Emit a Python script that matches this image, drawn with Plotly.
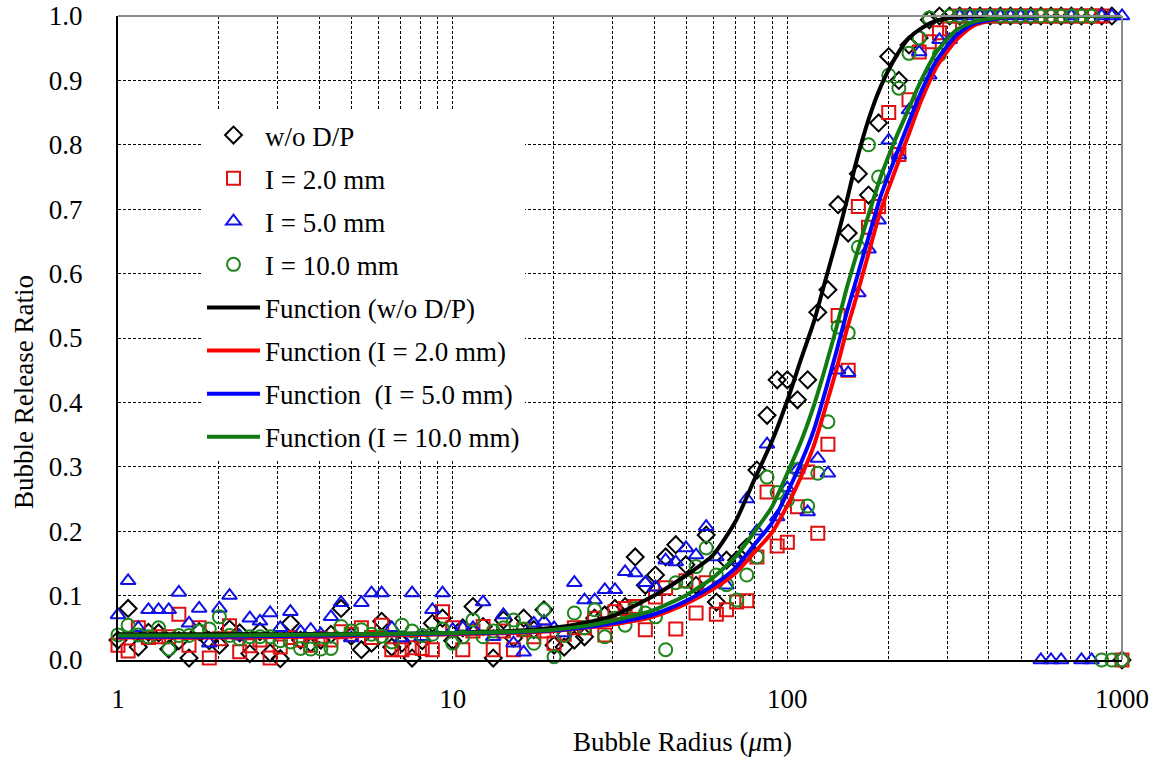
import plotly.graph_objects as go

# ---------------- data ----------------
RADIUS = [1.00, 1.072, 1.150, 1.233, 1.322, 1.418, 1.520, 1.630, 1.748, 1.874,
          2.009, 2.154, 2.310, 2.477, 2.656, 2.848, 3.054, 3.275, 3.511, 3.765,
          4.037, 4.329, 4.642, 4.977, 5.337, 5.722, 6.136, 6.579, 7.055, 7.565,
          8.111, 8.697, 9.326, 10.00, 10.72, 11.50, 12.33, 13.22, 14.18, 15.20,
          16.30, 17.48, 18.74, 20.09, 21.54, 23.10, 24.77, 26.56, 28.48, 30.54,
          32.75, 35.11, 37.65, 40.37, 43.29, 46.42, 49.77, 53.37, 57.22, 61.36,
          65.79, 70.55, 75.65, 81.11, 86.97, 93.26, 100.0, 107.2, 115.0, 123.3,
          132.2, 141.8, 152.0, 163.0, 174.8, 187.4, 200.9, 215.4, 231.0, 247.7,
          265.6, 284.8, 305.4, 327.5, 351.1, 376.5, 403.7, 432.9, 464.2, 497.7,
          533.7, 572.2, 613.6, 657.9, 705.5, 756.5, 811.1, 869.7, 932.6, 1000.0]

WO_DP = [0.031, 0.080, 0.020, 0.043, 0.042, 0.017, 0.030, 0.003, 0.044, 0.030,
         0.023, 0.048, 0.042, 0.010, 0.044, 0.011, 0.002, 0.057, 0.031, 0.026,
         0.031, 0.040, 0.080, 0.037, 0.016, 0.026, 0.060, 0.020, 0.026, 0.003,
         0.030, 0.057, 0.065, 0.030, 0.050, 0.083, 0.052, 0.003, 0.062, 0.034,
         0.065, 0.047, 0.078, 0.023, 0.020, 0.031, 0.036, 0.065, 0.070, 0.080,
         0.083, 0.160, 0.116, 0.132, 0.160, 0.179, 0.148, 0.116, 0.194, 0.090,
         0.155, 0.155, 0.175, 0.295, 0.380, 0.435, 0.435, 0.404, 0.435, 0.540,
         0.575, 0.707, 0.663, 0.755, 0.722, 0.834, 0.937, 0.900, 0.955, 0.966,
         0.994, 1.0, 1.0, 1.0, 1.0, 1.0, 1.0, 1.0, 1.0, 1.0,
         1.0, 1.0, 1.0, 1.0, 1.0, 1.0, 1.0, 1.0, 1.0, 0.0]

I_2MM = [0.023, 0.014, 0.050, 0.035, 0.036, 0.036, 0.071, 0.023, 0.050, 0.003,
         0.033, 0.053, 0.013, 0.022, 0.031, 0.003, 0.020, 0.035, 0.031, 0.023,
         0.033, 0.031, 0.044, 0.040, 0.050, 0.035, 0.054, 0.016, 0.016, 0.019,
         0.018, 0.016, 0.075, 0.050, 0.016, 0.045, 0.052, 0.016, 0.045, 0.016,
         0.047, 0.036, 0.045, 0.026, 0.040, 0.050, 0.050, 0.065, 0.039, 0.075,
         0.080, 0.083, 0.047, 0.098, 0.112, 0.048, 0.123, 0.073, 0.120, 0.071,
         0.078, 0.090, 0.092, 0.160, 0.261, 0.177, 0.183, 0.238, 0.292, 0.197,
         0.335, 0.535, 0.450, 0.704, 0.672, 0.704, 0.850, 0.785, 0.870, 0.944,
         0.960, 0.974, 0.980, 1.0, 1.0, 1.0, 1.0, 1.0, 1.0, 1.0,
         1.0, 1.0, 1.0, 1.0, 1.0, 1.0, 1.0, 1.0, None, 0.0]

I_5MM = [0.070, 0.123, 0.050, 0.078, 0.078, 0.078, 0.105, 0.057, 0.080, 0.026,
         0.080, 0.100, 0.037, 0.065, 0.060, 0.073, 0.050, 0.075, 0.044, 0.047,
         0.040, 0.067, 0.089, 0.034, 0.089, 0.104, 0.104, 0.050, 0.034, 0.104,
         0.036, 0.078, 0.104, 0.047, 0.050, 0.050, 0.090, 0.036, 0.070, 0.026,
         0.012, 0.057, 0.060, 0.050, 0.042, 0.120, 0.093, 0.093, 0.109, 0.109,
         0.137, 0.135, 0.120, 0.113, 0.155, 0.152, 0.174, 0.163, 0.207, 0.160,
         0.116, 0.155, 0.250, 0.200, 0.335, 0.222, 0.267, 0.296, 0.230, 0.313,
         0.290, 0.450, 0.446, 0.570, 0.638, 0.683, 0.807, 0.784, 0.854, 0.944,
         0.908, 0.963, 0.963, 1.0, 1.0, 1.0, 1.0, 1.0, 1.0, 1.0,
         1.0, 0.0, 0.0, 0.0, 1.0, 0.0, 0.0, 1.0, 1.0, 1.0]

I_10MM = [0.039, 0.054, 0.039, 0.036, 0.050, 0.017, 0.038, 0.038, 0.045, 0.048,
          0.067, 0.038, 0.033, 0.036, 0.036, 0.036, 0.030, 0.028, 0.018, 0.017,
          0.017, 0.018, 0.052, 0.045, 0.047, 0.040, 0.037, 0.028, 0.054, 0.045,
          0.038, 0.040, 0.048, 0.026, 0.036, 0.062, 0.036, 0.045, 0.050, 0.062,
          0.048, 0.026, 0.078, 0.005, 0.038, 0.073, 0.050, 0.078, 0.036, 0.065,
          0.054, 0.080, 0.073, 0.067, 0.016, 0.120, 0.122, 0.145, 0.174, 0.132,
          0.117, 0.093, 0.132, 0.160, 0.284, 0.260, 0.248, 0.296, 0.239, 0.290,
          0.370, 0.517, 0.508, 0.641, 0.800, 0.750, 0.908, 0.888, 0.942, 0.966,
          0.997, 0.940, 1.0, 1.0, 1.0, 1.0, 1.0, 1.0, 1.0, 1.0,
          1.0, 1.0, 1.0, 1.0, 1.0, 1.0, 1.0, 0.0, 0.0, 0.0]

CURVE_X = [1, 2, 5, 10, 15, 20, 25, 30, 40, 50, 60, 70, 80, 90, 100, 110, 120,
           130, 140, 150, 160, 175, 190, 210, 230, 250, 280, 320, 360, 450, 600, 1000]
FN_WO_DP = [0.040, 0.040, 0.040, 0.042, 0.045, 0.050, 0.058, 0.068, 0.100, 0.132,
            0.163, 0.215, 0.282, 0.340, 0.403, 0.468, 0.525, 0.590, 0.650, 0.710,
            0.770, 0.840, 0.890, 0.935, 0.965, 0.980, 0.993, 0.998, 1.0, 1.0, 1.0, 1.0]
FN_2MM = [0.035, 0.035, 0.037, 0.040, 0.042, 0.045, 0.050, 0.055, 0.068, 0.088,
          0.110, 0.135, 0.168, 0.198, 0.240, 0.285, 0.333, 0.392, 0.450, 0.510,
          0.560, 0.632, 0.698, 0.760, 0.815, 0.866, 0.922, 0.963, 0.985, 0.998, 1.0, 1.0]
FN_5MM = [0.036, 0.036, 0.039, 0.041, 0.043, 0.046, 0.051, 0.057, 0.071, 0.092,
          0.116, 0.143, 0.180, 0.213, 0.260, 0.307, 0.357, 0.418, 0.478, 0.537,
          0.587, 0.657, 0.720, 0.780, 0.833, 0.880, 0.932, 0.970, 0.988, 0.998, 1.0, 1.0]
FN_10MM = [0.038, 0.038, 0.040, 0.042, 0.044, 0.047, 0.053, 0.061, 0.078, 0.101,
           0.128, 0.160, 0.200, 0.238, 0.290, 0.340, 0.395, 0.455, 0.515, 0.575,
           0.625, 0.692, 0.750, 0.808, 0.855, 0.898, 0.945, 0.978, 0.991, 0.999, 1.0, 1.0]

X_TICKS = [1, 2, 3, 4, 5, 6, 7, 8, 9, 10, 20, 30, 40, 50, 60, 70, 80, 90,
           100, 200, 300, 400, 500, 600, 700, 800, 900, 1000]
X_TICK_TEXT = ["1", "", "", "", "", "", "", "", "", "10", "", "", "", "", "", "", "", "",
               "100", "", "", "", "", "", "", "", "", "1000"]
Y_TICKS = [0.0, 0.1, 0.2, 0.3, 0.4, 0.5, 0.6, 0.7, 0.8, 0.9, 1.0]

FONT = "Liberation Serif, Times New Roman, serif"

fig = go.Figure()

scatter_specs = [
    ("w/o D/P", WO_DP, "diamond-open", "#000000"),
    ("I = 2.0 mm", I_2MM, "square-open", "#e01010"),
    ("I = 5.0 mm", I_5MM, "triangle-up-open", "#1010e8"),
    ("I = 10.0 mm", I_10MM, "circle-open", "#1d861d"),
]
for k, (name, ys, sym, col) in enumerate(scatter_specs):
    fig.add_trace(go.Scatter(
        x=RADIUS, y=ys, mode="markers", name=name, legendgroup=f"g{k}",
        marker=dict(symbol=sym, size=13, color=col, line=dict(width=2, color=col)),
        cliponaxis=False,
    ))

line_specs = [
    ("Function (w/o D/P)", FN_WO_DP, "#000000"),
    ("Function (I = 2.0 mm)", FN_2MM, "#ff0000"),
    ("Function\u00a0\u00a0(I = 5.0 mm)", FN_5MM, "#0000ff"),
    ("Function (I = 10.0 mm)", FN_10MM, "#117a11"),
]
for k, (name, ys, col) in enumerate(line_specs):
    fig.add_trace(go.Scatter(
        x=CURVE_X, y=ys, mode="lines", name=name, legendgroup=f"h{k}",
        line=dict(color=col, width=4, shape="spline", smoothing=0.6),
    ))

grid = dict(showgrid=True, gridcolor="#000000", gridwidth=1, griddash="3px,2px")

fig.update_layout(
    width=1155, height=760,
    margin=dict(l=118, r=33, t=16, b=100, autoexpand=False),
    paper_bgcolor="white", plot_bgcolor="white",
    font=dict(family=FONT, size=27, color="#000000"),
    showlegend=True,
    legend=dict(
        x=(202 - 118) / 1004, y=(660 - 111) / 644, xanchor="left", yanchor="top",
        bgcolor="white", borderwidth=0, font=dict(family=FONT, size=27),
        tracegroupgap=5, itemsizing="trace", itemwidth=53,
    ),
    xaxis=dict(
        type="log", range=[0, 3], tickmode="array", tickvals=X_TICKS, ticktext=X_TICK_TEXT,
        ticks="", showline=True, linecolor="#000000", linewidth=2, zeroline=False,
        automargin=False,
        tickfont=dict(family=FONT, size=27), ticklabelstandoff=14, **grid,
    ),
    yaxis=dict(
        range=[0, 1.0], tickmode="array", tickvals=Y_TICKS, tickformat=".1f",
        ticks="", showline=True, linecolor="#000000", linewidth=2, zeroline=False,
        automargin=False,
        tickfont=dict(family=FONT, size=27), ticklabelstandoff=28, **grid,
    ),
    shapes=[
        # white backdrop of the legend area (covers the grid, stays under the data)
        dict(type="rect", xref="paper", yref="paper", layer="between",
             x0=(184 - 118) / 1004, x1=(553 - 118) / 1004,
             y0=(660 - 467) / 644, y1=(660 - 117) / 644,
             fillcolor="white", line=dict(width=0)),
        dict(type="line", xref="paper", yref="paper", x0=0, x1=1, y0=1, y1=1,
             line=dict(color="#8c8c8c", width=2)),
        dict(type="line", xref="paper", yref="paper", x0=1, x1=1, y0=0, y1=1,
             line=dict(color="#8c8c8c", width=2)),
    ],
    annotations=[
        dict(text="Bubble Radius (<i>\u03bc</i>m)", xref="paper", yref="paper",
             x=(682 - 118) / 1004, y=(660 - 742) / 644, xanchor="center", yanchor="middle",
             showarrow=False, font=dict(family=FONT, size=27)),
        dict(text="Bubble Release Ratio", xref="paper", yref="paper", textangle=-90,
             x=(24 - 118) / 1004, y=(660 - 392) / 644, xanchor="center", yanchor="middle",
             showarrow=False, font=dict(family=FONT, size=27)),
    ],
)

fig.write_html("out.html", config={"displayModeBar": False},
               post_script="document.body.style.margin='0px';document.body.style.overflow='hidden';")
